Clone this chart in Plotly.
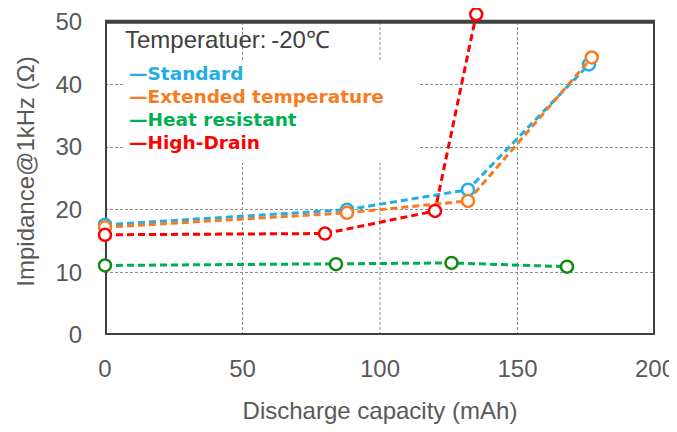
import plotly.graph_objects as go

# discharge capacity (mAh) / impedance @1kHz (ohm) at -20C
std_x = [0, 88, 132, 176]
std_y = [17.6, 20.0, 23.2, 43.2]
ext_x = [0, 88, 132, 177]
ext_y = [17.2, 19.5, 21.4, 44.3]
heat_x = [0, 84, 126, 168]
heat_y = [11.1, 11.3, 11.5, 10.9]
hd_x = [0, 80, 120, 135]
hd_y = [16.0, 16.2, 19.8, 51.2]

names = ['Standard', 'Extended temperature', 'Heat resistant', 'High-Drain']
line_colors = ['#1FAEE6', '#F57C20', '#00B050', '#FF0000']
marker_colors = ['#1FAEE6', '#F57C20', '#118A11', '#FF0000']

x_ticks = [0, 50, 100, 150, 200]
y_ticks = [0, 10, 20, 30, 40, 50]
Y_TOP = 52.2  # headroom so the 51 point sits above the frame

FRAME = '#404040'
TXT = '#595959'
GRID = '#8C8C8C'

fig = go.Figure()
series = [(std_x, std_y), (ext_x, ext_y), (heat_x, heat_y), (hd_x, hd_y)]
for (xs, ys), name, lc, mc in zip(series, names, line_colors, marker_colors):
    fig.add_trace(go.Scatter(
        x=xs, y=ys, name=name, mode='lines+markers',
        line=dict(color=lc, width=3, dash='7px,4px'),
        marker=dict(symbol='circle', size=12, color='white',
                    line=dict(color=mc, width=2.5)),
        cliponaxis=False, showlegend=False
    ))

# vertical grid lines, stopping at the frame top
for xv in x_ticks[1:-1]:
    fig.add_shape(type='line', x0=xv, x1=xv, y0=y_ticks[0], y1=y_ticks[-1],
                  line=dict(color=GRID, width=1, dash='3px,2px'), layer='below')

# white box behind the legend text (hides the grid)
fig.add_shape(type='rect', x0=7.3, x1=113.8, y0=27.5, y1=43.6,
              line=dict(width=0), fillcolor='white', layer='between')

# plot frame
fig.add_shape(type='rect', x0=x_ticks[0], x1=x_ticks[-1], y0=y_ticks[0], y1=y_ticks[-1],
              line=dict(color=FRAME, width=4), layer='between')

# legend rows
for i, (n, c) in enumerate(zip(names, line_colors)):
    fig.add_annotation(
        x=8, y=41.7 - i * 3.67, xref='x', yref='y', xanchor='left', yanchor='middle',
        text=f'<b>—{n}</b>', showarrow=False,
        font=dict(family='DejaVu Sans', size=18.5, color=c)
    )

fig.add_annotation(
    x=6.5, y=47.1, xref='x', yref='y', xanchor='left', yanchor='middle',
    text='Temperatuer:\u2009-20℃', showarrow=False,
    font=dict(family='Arial, Liberation Sans', size=24, color=FRAME)
)

# page body adds an 8px margin, so keep the figure inside the window
fig.update_layout(
    width=669, height=416,
    margin=dict(l=97, r=22, t=0, b=89, autoexpand=False),
    paper_bgcolor='white', plot_bgcolor='white',
    font=dict(family='Arial, Liberation Sans', color=TXT, size=24),
    xaxis=dict(
        range=[0, 200], tickvals=x_ticks, showgrid=False, zeroline=False,
        ticks='outside', ticklen=12, tickcolor='rgba(0,0,0,0)',
        tickfont=dict(size=24, color=TXT), automargin=False, ticklabeloverflow='allow',
        title=dict(text='Discharge capacity (mAh)', font=dict(size=24, color=TXT), standoff=22)
    ),
    yaxis=dict(
        range=[0, Y_TOP], tickvals=y_ticks, showgrid=True, gridcolor=GRID,
        gridwidth=1, griddash='3px,2px', zeroline=False,
        ticks='outside', ticklen=17, tickcolor='rgba(0,0,0,0)',
        tickfont=dict(size=24, color=TXT), automargin=False, ticklabeloverflow='allow',
        title=dict(text='Impidance@1kHz (Ω)', font=dict(size=24, color=TXT), standoff=14)
    ),
)

fig.write_html('out.html')
